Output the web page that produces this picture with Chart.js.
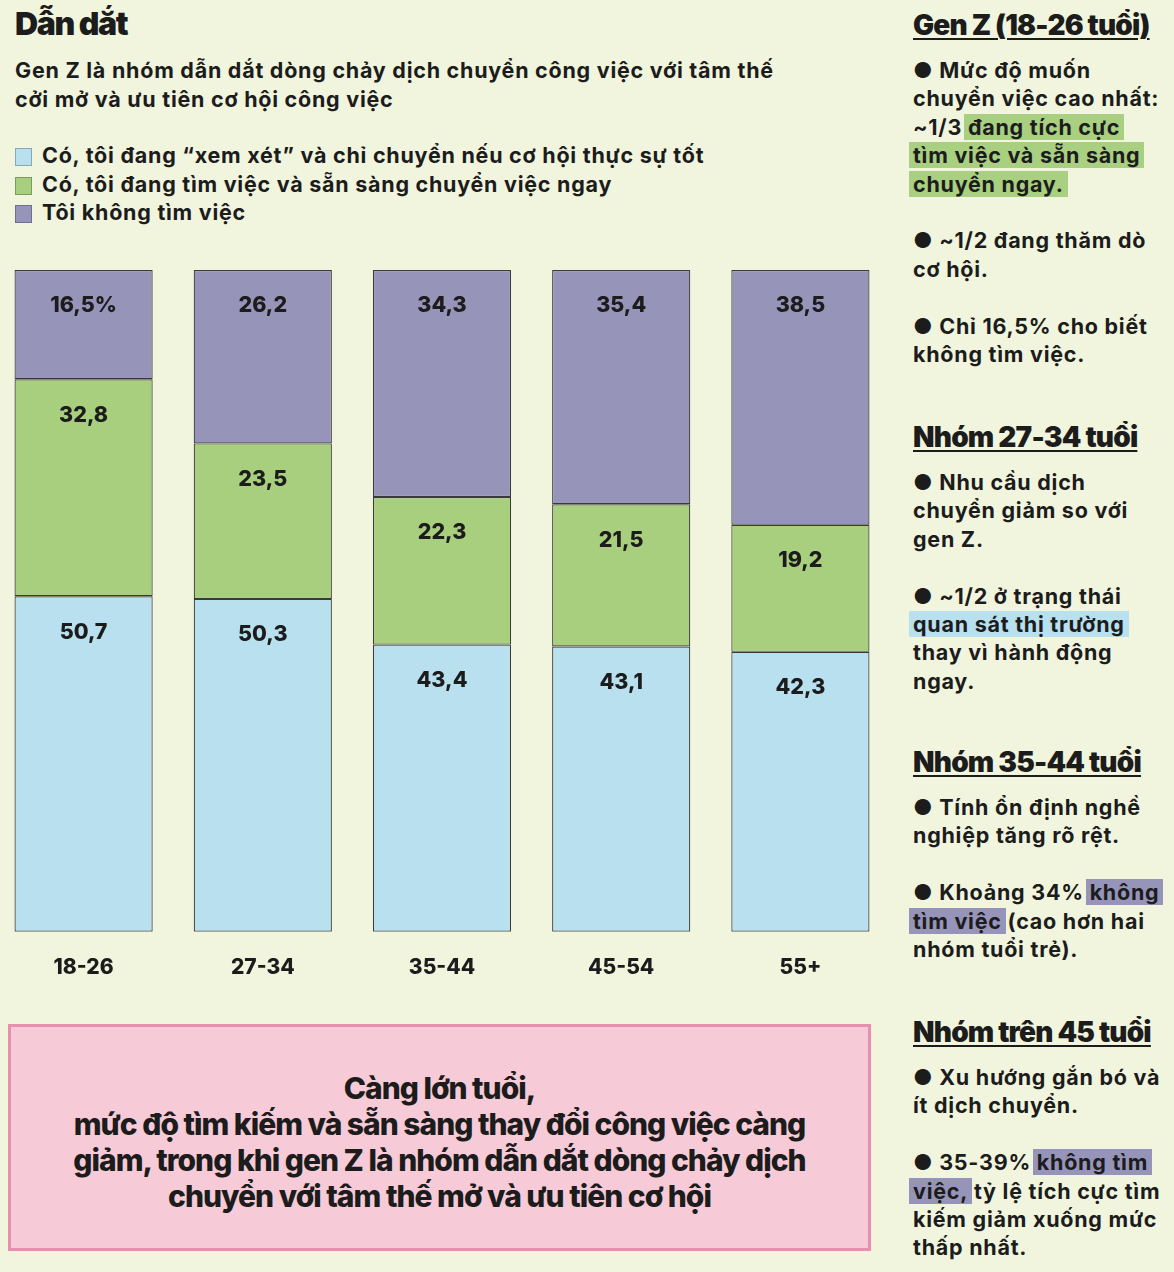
<!DOCTYPE html>
<html lang="vi">
<head>
<meta charset="utf-8">
<script src="https://cdn.jsdelivr.net/npm/chart.js@4.4.1/dist/chart.umd.min.js"></script>
<style>
  html, body { margin: 0; padding: 0; }
  body {
    width: 1174px; height: 1272px; position: relative; overflow: hidden;
    background: #f1f5dd; color: #1c1c1c;
    font-family: Inter, "Noto Sans", sans-serif; font-weight: 700;
  }
  .abs { position: absolute; }
  #title { left: 15px; top: 4px; font-size: 32px; font-weight: 900; letter-spacing: -1.4px; line-height: 40px; }
  #sub { left: 15px; top: 56px; font-size: 21.5px; line-height: 29px; letter-spacing: 0.75px; white-space: nowrap; }
  #legend { left: 15px; top: 141px; font-size: 21.5px; line-height: 28.5px; letter-spacing: 0.75px; white-space: nowrap; }
  #legend .sq { display: inline-block; width: 17px; height: 18px; margin-right: 10px; vertical-align: -3px; box-shadow: inset 0 0 0 1px rgba(0,0,0,0.25); }
  #chartBox { left: -6px; top: 258px; width: 896px; height: 745px; }
  .side { left: 913px; width: 261px; font-size: 21.5px; line-height: 28.4px; letter-spacing: 0.75px; white-space: nowrap; }
  .head { left: 913px; font-size: 28px; font-weight: 900; letter-spacing: -0.8px; line-height: 34px;
          text-decoration: underline; text-decoration-thickness: 2px; text-underline-offset: 3px; white-space: nowrap; }
  .hl { padding: 0 4px; margin: 0 -4px; box-decoration-break: clone; -webkit-box-decoration-break: clone; }
  .g { background: #a8d080; }
  .b { background: #b8e0ee; }
  .p { background: #9794ba; }
  #pink { left: 8px; top: 1024px; width: 857px; height: 221px; background: #f6cbd7; border: 3px solid #e690b1; }
  #pinkText { left: 8px; top: 1070px; width: 863px; text-align: center; font-size: 30px; font-weight: 800;
              letter-spacing: -1.0px; line-height: 36px; white-space: nowrap; }
</style>
</head>
<body>
<div id="title" class="abs">Dẫn dắt</div>
<div id="sub" class="abs">Gen Z là nhóm dẫn dắt dòng chảy dịch chuyển công việc với tâm thế<br>cởi mở và ưu tiên cơ hội công việc</div>
<div id="legend" class="abs"></div>

<div id="chartBox" class="abs"><canvas id="myChart"></canvas></div>

<div class="head abs" style="top:8px">Gen Z (18-26 tuổi)</div>
<div class="side abs" style="top:56px">● Mức độ muốn<br>chuyển việc cao nhất:<br>~1/3 <span class="hl g">đang tích cực<br>tìm việc và sẵn sàng<br>chuyển ngay.</span><br><br>● ~1/2 đang thăm dò<br>cơ hội.<br><br>● Chỉ 16,5% cho biết<br>không tìm việc.</div>

<div class="head abs" style="top:420px">Nhóm 27-34 tuổi</div>
<div class="side abs" style="top:468px">● Nhu cầu dịch<br>chuyển giảm so với<br>gen Z.<br><br>● ~1/2 ở trạng thái<br><span class="hl b">quan sát thị trường</span><br>thay vì hành động<br>ngay.</div>

<div class="head abs" style="top:745px">Nhóm 35-44 tuổi</div>
<div class="side abs" style="top:793px">● Tính ổn định nghề<br>nghiệp tăng rõ rệt.<br><br>● Khoảng 34% <span class="hl p">không<br>tìm việc</span> (cao hơn hai<br>nhóm tuổi trẻ).</div>

<div class="head abs" style="top:1015px">Nhóm trên 45 tuổi</div>
<div class="side abs" style="top:1063px">● Xu hướng gắn bó và<br>ít dịch chuyển.<br><br>● 35-39% <span class="hl p">không tìm<br>việc,</span> tỷ lệ tích cực tìm<br>kiếm giảm xuống mức<br>thấp nhất.</div>

<div id="pink" class="abs"></div>
<div id="pinkText" class="abs">Càng lớn tuổi,<br>mức độ tìm kiếm và sẵn sàng thay đổi công việc càng<br>giảm, trong khi gen Z là nhóm dẫn dắt dòng chảy dịch<br>chuyển với tâm thế mở và ưu tiên cơ hội</div>

<script>
// Nhóm tuổi (trục x)
const nhomTuoi = ['18-26', '27-34', '35-44', '45-54', '55+'];

// Tên các nhóm trả lời
const tenNhom = [
	'Có, tôi đang “xem xét” và chỉ chuyển nếu cơ hội thực sự tốt',
	'Có, tôi đang tìm việc và sẵn sàng chuyển việc ngay',
	'Tôi không tìm việc'
];

// Giá trị (%)
const xemXet = [50.7, 50.3, 43.4, 43.1, 42.3];
const sanSang = [32.8, 23.5, 22.3, 21.5, 19.2];
const khongTim = [16.5, 26.2, 34.3, 35.4, 38.5];

const mau = ['#b8e0ee', '#a8cf7e', '#9794ba'];

// legend HTML
let legendHtml = '';
tenNhom.forEach((ten, i) => {
	legendHtml += `<div><span class="sq" style="background:${mau[i]}"></span>${ten}</div>`;
});
document.getElementById('legend').innerHTML = legendHtml;

// nhãn giá trị trong mỗi đoạn cột
const nhanGiaTri = {
	id: 'nhanGiaTri',
	afterDatasetsDraw(chart) {
		const ctx = chart.ctx;
		ctx.save();
		ctx.font = '800 21.5px Inter, "Noto Sans", sans-serif';
		ctx.fillStyle = '#1c1c1c';
		ctx.textAlign = 'center';
		ctx.textBaseline = 'middle';
		chart.data.datasets.forEach((ds, di) => {
			const meta = chart.getDatasetMeta(di);
			meta.data.forEach((bar, i) => {
				let txt = ds.data[i].toFixed(1).replace('.', ',');
				if (di === 2 && i === 0) txt += '%';
				ctx.fillText(txt, bar.x, bar.y + 36);
			});
		});
		ctx.restore();
	}
};

const data = {
	labels: nhomTuoi,
	datasets: [xemXet, sanSang, khongTim].map((vals, i) => ({
		label: tenNhom[i],
		data: vals,
		backgroundColor: mau[i],
		borderColor: '#3a3a3a',
		borderWidth: 1.2,
		borderSkipped: false,
		barPercentage: 0.771,
		categoryPercentage: 1
	}))
};

const config = {
	type: 'bar',
	data: data,
	options: {
		responsive: true,
		maintainAspectRatio: false,
		animation: false,
		layout: { padding: { top: 12, bottom: 0, left: 0, right: 0 } },
		plugins: { legend: { display: false }, tooltip: { enabled: false } },
		scales: {
			x: {
				stacked: true,
				grid: { display: false, drawTicks: false },
				border: { display: false },
				ticks: { color: '#1c1c1c', padding: 23, font: { family: 'Inter', size: 21, weight: '800' } }
			},
			y: { stacked: true, display: false, min: 0, max: 100 }
		}
	},
	plugins: [nhanGiaTri]
};

const myChart = new Chart(document.getElementById('myChart'), config);
</script>
</body>
</html>
